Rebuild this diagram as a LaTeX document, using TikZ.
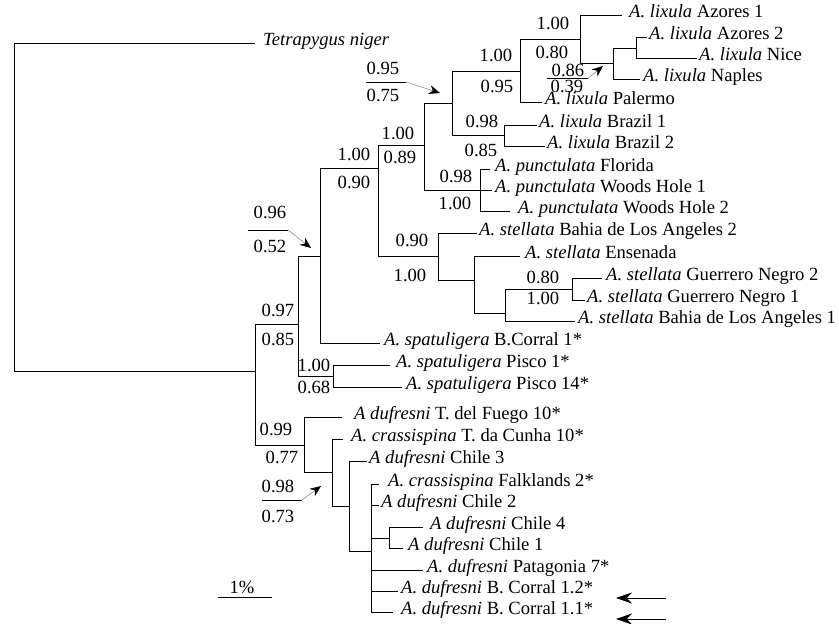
\documentclass[tikz,border=0pt]{standalone}
\usepackage{fontspec}
\setmainfont{Liberation Serif}
\usetikzlibrary{arrows.meta}
\tikzstyle{branch} = [draw, line width=0.9pt]
\tikzstyle{leaf} = [anchor=mid west, inner xsep=2pt, inner ysep=0pt]
\tikzstyle{support} = [inner sep=0pt]
\tikzstyle{fracline} = [draw, line width=0.8pt]
\tikzstyle{callout} = [draw, gray, line width=0.5pt, -{Stealth[black, length=11pt, width=9pt]}]
\tikzstyle{pointer} = [draw, line width=0.9pt, -{Stealth[length=16pt, width=11pt]}]

\begin{document}
\begin{tikzpicture}[x=1pt, y=-1pt, font=\fontsize{18.6}{22}\selectfont]
    \useasboundingbox (0,0) rectangle (839,624);
    % Place nodes
    \coordinate (root) at (14,207);
    \coordinate (nA) at (255,371);
    \coordinate (nB) at (298,324);
    \coordinate (nD) at (320,256);
    \coordinate (nE) at (378,168);
    \coordinate (nF) at (424,145);
    \coordinate (nLix) at (452,103);
    \coordinate (nG) at (520,71);
    \coordinate (nH) at (580,39);
    \coordinate (nI) at (613,63);
    \coordinate (nJ) at (636,48);
    \coordinate (nBraz) at (504,135);
    \coordinate (nPunct) at (480,190);
    \coordinate (nStel) at (438,256);
    \coordinate (nK) at (474,280);
    \coordinate (nL) at (505,313);
    \coordinate (nGN) at (572,289);
    \coordinate (nPisco) at (333,376);
    \coordinate (nC) at (304,445);
    \coordinate (nM) at (332,472);
    \coordinate (nN) at (349,506);
    \coordinate (nO) at (371,551);
    \coordinate (nP) at (389,538);

    \node [leaf, inner xsep=8pt] (tniger) at (255,43) {\textit{Tetrapygus niger}};
    \node [leaf, inner xsep=7pt] (az1) at (622,15) {\textit{A. lixula} Azores 1};
    \node [leaf] (az2) at (647,37) {\textit{A. lixula} Azores 2};
    \node [leaf] (nice) at (697,58) {\textit{A. lixula} Nice};
    \node [leaf, inner xsep=3pt] (naples) at (640,79) {\textit{A. lixula} Naples};
    \node [leaf, inner xsep=3pt] (palermo) at (542,102) {\textit{A. lixula} Palermo};
    \node [leaf] (braz1) at (537,125) {\textit{A. lixula} Brazil 1};
    \node [leaf] (braz2) at (545,146) {\textit{A. lixula} Brazil 2};
    \node [leaf, inner xsep=5pt] (florida) at (490,169) {\textit{A. punctulata} Florida};
    \node [leaf, inner xsep=3pt] (wh1) at (492,190) {\textit{A. punctulata} Woods Hole 1};
    \node [leaf, inner xsep=8pt] (wh2) at (510,211) {\textit{A. punctulata} Woods Hole 2};
    \node [leaf] (bahia2) at (477,233) {\textit{A. stellata} Bahia de Los Angeles 2};
    \node [leaf, inner xsep=5pt] (ensenada) at (520,256) {\textit{A. stellata} Ensenada};
    \node [leaf, inner xsep=4pt] (gn2) at (602,278) {\textit{A. stellata} Guerrero Negro 2};
    \node [leaf] (gn1) at (585,300) {\textit{A. stellata} Guerrero Negro 1};
    \node [leaf, inner xsep=3pt] (bahia1) at (575,321) {\textit{A. stellata} Bahia de Los Angeles 1};
    \node [leaf, inner xsep=4pt] (bcorral) at (380,343) {\textit{A. spatuligera} B.Corral 1*};
    \node [leaf, inner xsep=6pt] (pisco1) at (390,365) {\textit{A. spatuligera} Pisco 1*};
    \node [leaf, inner xsep=4pt] (pisco14) at (402,387) {\textit{A. spatuligera} Pisco 14*};
    \node [leaf, inner xsep=12pt] (fuego) at (342,417) {\textit{A dufresni} T. del Fuego 10*};
    \node [leaf, inner xsep=8pt] (cunha) at (343,439) {\textit{A. crassispina} T. da Cunha 10*};
    \node [leaf] (chile3) at (367,461) {\textit{A dufresni} Chile 3};
    \node [leaf, inner xsep=9pt] (falk) at (379,484) {\textit{A. crassispina} Falklands 2*};
    \node [leaf] (chile2) at (379,505) {\textit{A dufresni} Chile 2};
    \node [leaf, inner xsep=7pt] (chile4) at (423,527) {\textit{A dufresni} Chile 4};
    \node [leaf, inner xsep=5pt] (chile1) at (403,548) {\textit{A dufresni} Chile 1};
    \node [leaf, inner xsep=4pt] (patag) at (423,570) {\textit{A. dufresni} Patagonia 7*};
    \node [leaf, inner xsep=3pt] (bc12) at (398,591) {\textit{A. dufresni} B. Corral 1.2*};
    \node [leaf, inner xsep=8pt] (bc11) at (393,612) {\textit{A. dufresni} B. Corral 1.1*};

    % Support values
    \node [support] (supHa) at (553,23) {1.00};
    \node [support] (supHb) at (552,52) {0.80};
    \node [support] (supGa) at (496,55) {1.00};
    \node [support] (supGb) at (497,86) {0.95};
    \node [support] (supFa) at (398,133) {1.00};
    \node [support] (supFb) at (400,157) {0.89};
    \node [support] (supEa) at (354,154) {1.00};
    \node [support] (supEb) at (354,182) {0.90};
    \node [support] (supBraza) at (482,121) {0.98};
    \node [support] (supBrazb) at (481,150) {0.85};
    \node [support] (supPuncta) at (456,176) {0.98};
    \node [support] (supPunctb) at (455,203) {1.00};
    \node [support] (supStela) at (412,240) {0.90};
    \node [support] (supStelb) at (410,275) {1.00};
    \node [support] (supGNa) at (543,277) {0.80};
    \node [support] (supGNb) at (543,298) {1.00};
    \node [support] (supBa) at (278,310) {0.97};
    \node [support] (supBb) at (278,339) {0.85};
    \node [support] (supPiscoa) at (314,365) {1.00};
    \node [support] (supPiscob) at (314,387) {0.68};
    \node [support] (supCa) at (276,429) {0.99};
    \node [support] (supCb) at (282,457) {0.77};

    % Callouts
    \node [support] (cLixa) at (383,68) {0.95};
    \node [support] (cLixb) at (383,95) {0.75};
    \coordinate (cLixl) at (366,82);
    \coordinate (cLixr) at (406,82);
    \coordinate (cLixt) at (440,93);
    \node [support] (cIa) at (568,70) {0.86};
    \node [support] (cIb) at (567,86) {0.39};
    \coordinate (cIl) at (547,78.3);
    \coordinate (cIr) at (588,78.3);
    \coordinate (cIt) at (603,66);
    \node [support] (cDa) at (270,212) {0.96};
    \node [support] (cDb) at (270,246) {0.52};
    \coordinate (cDl) at (248,230);
    \coordinate (cDr) at (288,230);
    \coordinate (cDt) at (311,248);
    \node [support] (cMa) at (278,486) {0.98};
    \node [support] (cMb) at (278,516) {0.73};
    \coordinate (cMl) at (262,500);
    \coordinate (cMr) at (302,500);
    \coordinate (cMt) at (321,486);

    % Scale bar and markers
    \node [support] (scl) at (242,587) {1\%};
    \coordinate (sclA) at (218,597);
    \coordinate (sclB) at (272,597);
    \coordinate (mk1s) at (666,598);
    \coordinate (mk1e) at (616,598);
    \coordinate (mk2s) at (666,619);
    \coordinate (mk2e) at (616,619);

    % Draw edges
    \path [branch] (root) |- (tniger.mid west);
    \path [branch] (root) |- (nA);
    \path [branch] (nA) |- (nB);
    \path [branch] (nA) |- (nC);
    \path [branch] (nB) |- (nD);
    \path [branch] (nB) |- (nPisco);
    \path [branch] (nD) |- (nE);
    \path [branch] (nD) |- (bcorral.mid west);
    \path [branch] (nE) |- (nF);
    \path [branch] (nE) |- (nStel);
    \path [branch] (nF) |- (nLix);
    \path [branch] (nF) |- (nPunct);
    \path [branch] (nLix) |- (nG);
    \path [branch] (nLix) |- (nBraz);
    \path [branch] (nG) |- (nH);
    \path [branch] (nG) |- (palermo.mid west);
    \path [branch] (nH) |- (az1.mid west);
    \path [branch] (nH) |- (nI);
    \path [branch] (nI) |- (nJ);
    \path [branch] (nI) |- (naples.mid west);
    \path [branch] (nJ) |- (az2.mid west);
    \path [branch] (nJ) |- (nice.mid west);
    \path [branch] (nBraz) |- (braz1.mid west);
    \path [branch] (nBraz) |- (braz2.mid west);
    \path [branch] (nPunct) |- (florida.mid west);
    \path [branch] (nPunct) |- (wh1.mid west);
    \path [branch] (nPunct) |- (wh2.mid west);
    \path [branch] (nStel) |- (bahia2.mid west);
    \path [branch] (nStel) |- (nK);
    \path [branch] (nK) |- (ensenada.mid west);
    \path [branch] (nK) |- (nL);
    \path [branch] (nL) |- (nGN);
    \path [branch] (nL) |- (bahia1.mid west);
    \path [branch] (nGN) |- (gn2.mid west);
    \path [branch] (nGN) |- (gn1.mid west);
    \path [branch] (nPisco) |- (pisco1.mid west);
    \path [branch] (nPisco) |- (pisco14.mid west);
    \path [branch] (nC) |- (fuego.mid west);
    \path [branch] (nC) |- (nM);
    \path [branch] (nM) |- (cunha.mid west);
    \path [branch] (nM) |- (nN);
    \path [branch] (nN) |- (chile3.mid west);
    \path [branch] (nN) |- (nO);
    \path [branch] (nO) |- (falk.mid west);
    \path [branch] (nO) |- (chile2.mid west);
    \path [branch] (nO) |- (nP);
    \path [branch] (nO) |- (patag.mid west);
    \path [branch] (nO) |- (bc12.mid west);
    \path [branch] (nO) |- (bc11.mid west);
    \path [branch] (nP) |- (chile4.mid west);
    \path [branch] (nP) |- (chile1.mid west);

    % Draw callouts
    \path [fracline] (cLixl) -- (cLixr);
    \path [callout] (cLixr) -- (cLixt);
    \path [fracline] (cIl) -- (cIr);
    \path [callout] (cIr) -- (cIt);
    \path [fracline] (cDl) -- (cDr);
    \path [callout] (cDr) -- (cDt);
    \path [fracline] (cMl) -- (cMr);
    \path [callout] (cMr) -- (cMt);
    \path [fracline] (sclA) -- (sclB);
    \path [pointer] (mk1s) -- (mk1e);
    \path [pointer] (mk2s) -- (mk2e);
\end{tikzpicture}
\end{document}
